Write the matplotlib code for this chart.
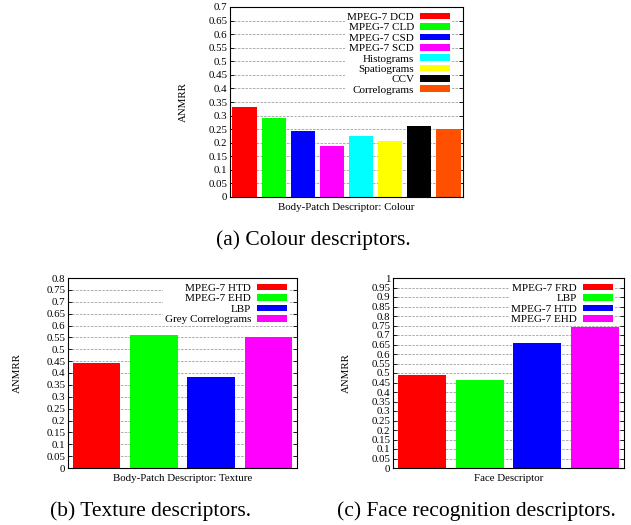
import matplotlib
matplotlib.use('Agg')
import matplotlib.pyplot as plt

plt.rcParams['font.family'] = ['Liberation Serif', 'DejaVu Serif']

# (a) colour descriptors
colour_names = ['MPEG-7 DCD', 'MPEG-7 CLD', 'MPEG-7 CSD', 'MPEG-7 SCD',
                'Histograms', 'Spatiograms', 'CCV', 'Correlograms']
colour_vals = [0.331, 0.291, 0.243, 0.188, 0.225, 0.205, 0.262, 0.252]
colour_cols = ['#ff0000', '#00ff00', '#0000ff', '#ff00ff',
               '#00ffff', '#ffff00', '#000000', '#ff5000']
colour_ticks = ['0', '0.05', '0.1', '0.15', '0.2', '0.25', '0.3', '0.35',
                '0.4', '0.45', '0.5', '0.55', '0.6', '0.65', '0.7']

# (b) texture descriptors
texture_names = ['MPEG-7 HTD', 'MPEG-7 EHD', 'LBP', 'Grey Correlograms']
texture_vals = [0.443, 0.558, 0.383, 0.552]
texture_ticks = ['0', '0.05', '0.1', '0.15', '0.2', '0.25', '0.3', '0.35',
                 '0.4', '0.45', '0.5', '0.55', '0.6', '0.65', '0.7', '0.75', '0.8']

# (c) face descriptors
face_names = ['MPEG-7 FRD', 'LBP', 'MPEG-7 HTD', 'MPEG-7 EHD']
face_vals = [0.490, 0.463, 0.660, 0.742]
face_ticks = ['0', '0.05', '0.1', '0.15', '0.2', '0.25', '0.3', '0.35',
              '0.4', '0.45', '0.5', '0.55', '0.6', '0.65', '0.7', '0.75',
              '0.8', '0.85', '0.9', '0.95', '1']

four_cols = ['#ff0000', '#00ff00', '#0000ff', '#ff00ff']

W, H = 631, 525
fig = plt.figure(figsize=(W / 100, H / 100), dpi=100)


def px_axes(left, right, top, bottom):
    return fig.add_axes([left / W, 1 - bottom / H, (right - left) / W, (bottom - top) / H])


def bar_panel(ax, names, vals, cols, ticks, xlabel, ylab_px, rpad, tpad=3.5):
    xs = list(range(len(vals)))
    for x, v, c, n in zip(xs, vals, cols, names):
        ax.bar(x, v, width=0.83, color=c, label=n, zorder=3, linewidth=0)
    tv = [float(t) for t in ticks]
    ax.set_xlim(-0.5, len(vals) - 0.5)
    ax.set_ylim(0, tv[-1])
    ax.set_yticks(tv)
    ax.set_yticklabels(ticks)
    ax.set_xticks([])
    ax.tick_params(axis='y', direction='in', length=3, width=0.6,
                   right=True, labelsize=7.8, pad=2)
    for t in tv[1:-1]:
        ax.axhline(t, color='#a0a0a0', lw=0.6, dashes=(3, 1.5), zorder=1)
    for s in ax.spines.values():
        s.set_linewidth(0.8)
        s.set_zorder(5)
    ax.set_xlabel(xlabel, fontsize=7.8, labelpad=4)
    ax.set_ylabel('ANMRR', fontsize=7.8)
    pos = ax.get_position()
    w = pos.width * W
    h = pos.height * H
    ax.yaxis.set_label_coords(-ylab_px / w, 0.5)
    leg = ax.legend(loc='upper right', bbox_to_anchor=(1 - rpad / w, 1 - tpad / h),
                    markerfirst=False, fontsize=8,
                    handlelength=2.7, handleheight=0.55, handletextpad=0.5,
                    labelspacing=0.1, borderpad=0.2, borderaxespad=0,
                    frameon=True, fancybox=False, framealpha=1,
                    edgecolor='none', facecolor='white')
    for t in leg.get_texts():
        t.set_ha('right')
    leg._legend_box.align = 'right'
    leg.set_zorder(4)


ax_a = px_axes(230, 463, 7, 197)
bar_panel(ax_a, colour_names, colour_vals, colour_cols, colour_ticks,
          'Body-Patch Descriptor: Colour', 42, 11)

ax_b = px_axes(68, 297, 278, 468)
bar_panel(ax_b, texture_names, texture_vals, four_cols, texture_ticks,
          'Body-Patch Descriptor: Texture', 46, 8)

ax_c = px_axes(393, 624, 278, 468)
bar_panel(ax_c, face_names, face_vals, four_cols, face_ticks,
          'Face Descriptor', 42, 9)

fig.text(313 / W, 1 - 240 / H, '(a) Colour descriptors.', ha='center', va='center', fontsize=15.5)
fig.text(150 / W, 1 - 511 / H, '(b) Texture descriptors.', ha='center', va='center', fontsize=15.5)
fig.text(476 / W, 1 - 511 / H, '(c) Face recognition descriptors.', ha='center', va='center', fontsize=15.5)

fig.savefig('out.png', dpi=100)
